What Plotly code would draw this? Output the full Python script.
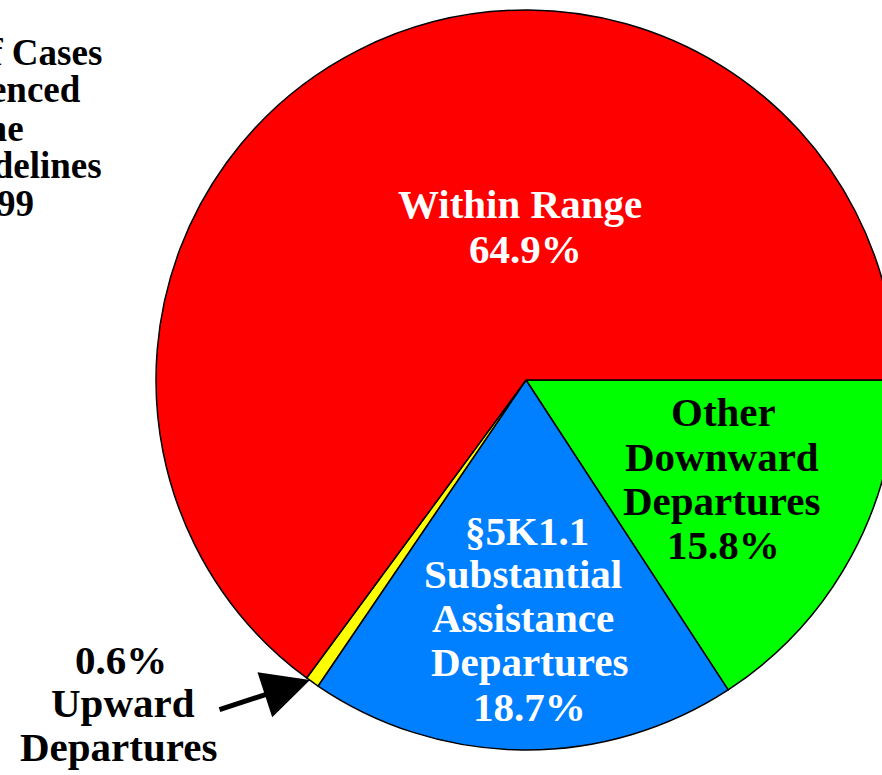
import plotly.graph_objects as go

# data
categorias = ["Other Downward Departures", "§5K1.1 Substantial Assistance Departures",
              "Upward Departures", "Within Range"]
percentuais = [15.8, 18.7, 0.6, 64.9]
cores = ["#00FF00", "#0080FF", "#FFFF00", "#FF0000"]

titulo = ["Percent of Cases", "Sentenced", "Under the", "Guidelines", "Fiscal Year 1999"]

W, H = 896, 775
FONTE = "Liberation Serif, Times New Roman, serif"


def px(x):
    return x / W


def py(y):
    return 1 - y / H


fig = go.Figure(go.Pie(
    labels=categorias,
    values=percentuais,
    marker=dict(colors=cores, line=dict(color="black", width=1.5)),
    sort=False,
    direction="clockwise",
    rotation=90,
    textinfo="none",
    hoverinfo="label+percent",
    showlegend=False,
    domain=dict(x=[px(156), px(896)], y=[py(750), py(10)]),
))

# rotulos das fatias: (texto, x, y, cor)
rotulos = [
    ("Within Range", 520, 204, "white"),
    ("64.9%", 525, 249, "white"),
    ("Other", 723, 412, "black"),
    ("Downward", 722, 457, "black"),
    ("Departures", 721, 501, "black"),
    ("15.8%", 723, 545, "black"),
    ("§5K1.1", 527, 531, "white"),
    ("Substantial", 523, 574, "white"),
    ("Assistance", 523, 618, "white"),
    ("Departures", 529, 662, "white"),
    ("18.7%", 529, 707, "white"),
    ("0.6%", 121, 660, "black"),
    ("Upward", 123, 703, "black"),
    ("Departures", 118, 747, "black"),
]

anots = []
for texto, x, y, cor in rotulos:
    anots.append(dict(
        text=texto, x=px(x), y=py(y), xref="paper", yref="paper",
        xanchor="center", yanchor="middle", showarrow=False,
        font=dict(family=FONTE, size=41, color=cor, weight="bold"),
    ))

# titulo cortado na esquerda, como no original
pos_titulo = [(104, 52), (83, 90), (26, 128), (104, 165), (36, 203)]
for texto, (x, y) in zip(titulo, pos_titulo):
    anots.append(dict(
        text=texto, x=px(x), y=py(y), xref="paper", yref="paper",
        xanchor="right", yanchor="middle", showarrow=False,
        font=dict(family=FONTE, size=37, color="black", weight="bold"),
    ))

# seta para a fatia amarela
anots.append(dict(
    text="", x=px(310), y=py(680), xref="paper", yref="paper",
    showarrow=True, ax=-92, ay=30, axref="pixel", ayref="pixel",
    arrowhead=2, arrowsize=1.9, arrowwidth=5, arrowcolor="black", standoff=0,
))

fig.update_layout(
    width=W, height=H,
    margin=dict(l=0, r=0, t=0, b=0),
    paper_bgcolor="white",
    plot_bgcolor="white",
    annotations=anots,
)

fig.write_html(
    "out.html",
    config={"displayModeBar": False},
    post_script="document.body.style.margin='0';document.body.style.overflow='hidden';",
)
